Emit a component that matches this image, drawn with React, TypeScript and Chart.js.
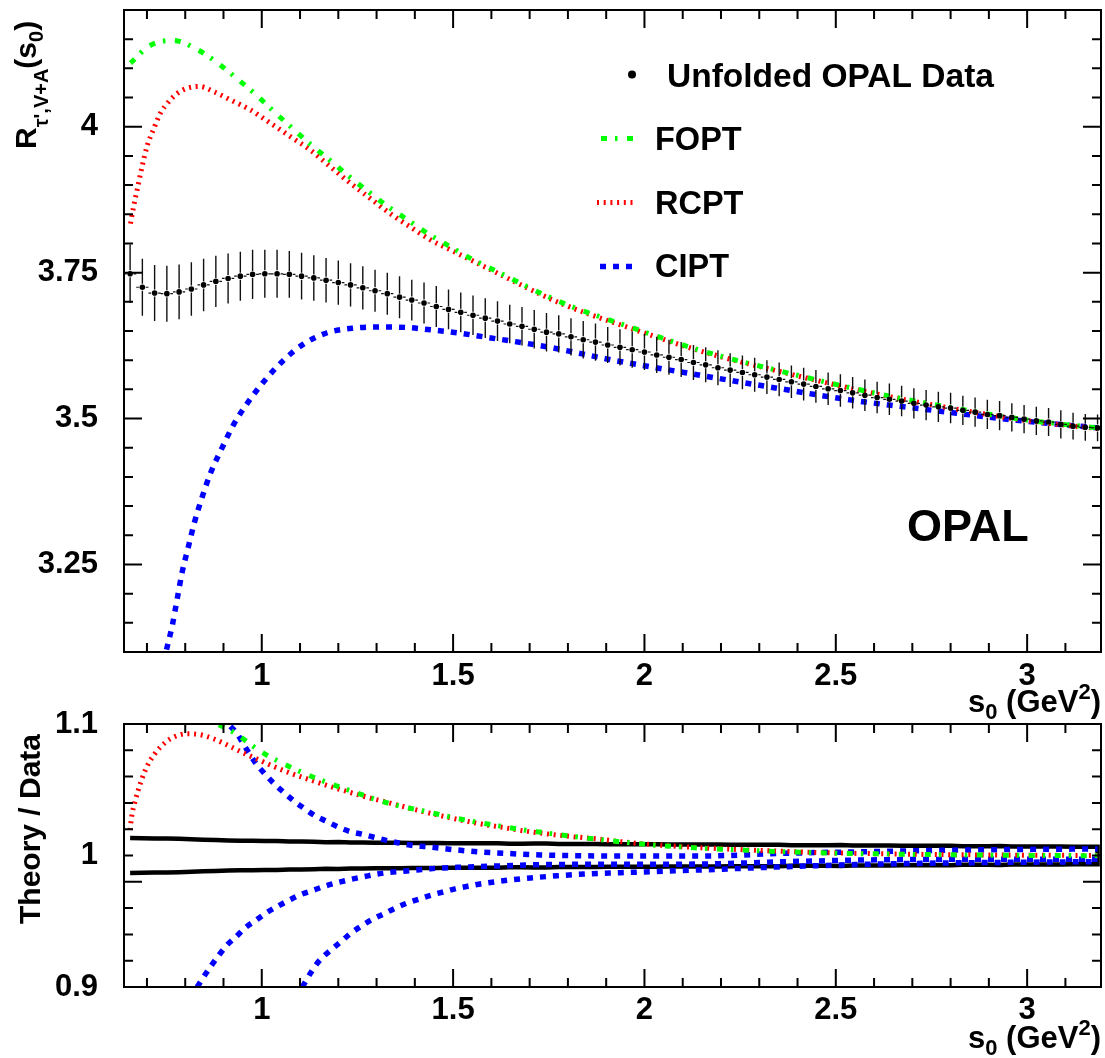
import React, { useEffect, useRef } from "react";
import { Chart, registerables } from "chart.js";

Chart.register(...registerables);

const FONT = '"Liberation Sans", Arial, Helvetica, sans-serif';

// ---------------- data ----------------
const dataS = [
  0.656, 0.688, 0.72, 0.752, 0.784, 0.816, 0.848, 0.88, 0.912, 0.944,
  0.976, 1.008, 1.04, 1.072, 1.104, 1.136, 1.168, 1.2, 1.232, 1.264,
  1.296, 1.328, 1.36, 1.392, 1.424, 1.456, 1.488, 1.52, 1.552, 1.584,
  1.616, 1.648, 1.68, 1.712, 1.744, 1.776, 1.808, 1.84, 1.872, 1.904,
  1.936, 1.968, 2.0, 2.032, 2.064, 2.096, 2.128, 2.16, 2.192, 2.224,
  2.256, 2.288, 2.32, 2.352, 2.384, 2.416, 2.448, 2.48, 2.512, 2.544,
  2.576, 2.608, 2.64, 2.672, 2.704, 2.736, 2.768, 2.8, 2.832, 2.864,
  2.896, 2.928, 2.96, 2.992, 3.024, 3.056, 3.088, 3.12, 3.152, 3.184,
];
const dataValue = [
  3.748, 3.725, 3.715, 3.714, 3.717, 3.722, 3.729, 3.735, 3.74, 3.744,
  3.747, 3.748, 3.748, 3.747, 3.744, 3.741, 3.737, 3.733, 3.729, 3.724,
  3.719, 3.714, 3.708, 3.703, 3.698, 3.692, 3.687, 3.682, 3.677, 3.672,
  3.667, 3.662, 3.658, 3.653, 3.648, 3.645, 3.64, 3.635, 3.631, 3.626,
  3.622, 3.618, 3.614, 3.609, 3.605, 3.601, 3.596, 3.592, 3.587, 3.583,
  3.579, 3.575, 3.571, 3.567, 3.563, 3.559, 3.555, 3.551, 3.548, 3.544,
  3.54, 3.536, 3.533, 3.53, 3.526, 3.523, 3.52, 3.518, 3.514, 3.511,
  3.507, 3.505, 3.502, 3.499, 3.496, 3.494, 3.49, 3.487, 3.485, 3.484,
];
const dataError = [
  0.05, 0.049, 0.048, 0.048, 0.047, 0.046, 0.045, 0.044, 0.043, 0.042,
  0.042, 0.041, 0.041, 0.04, 0.04, 0.039, 0.038, 0.038, 0.037, 0.037,
  0.036, 0.036, 0.036, 0.035, 0.035, 0.035, 0.034, 0.034, 0.034, 0.034,
  0.034, 0.033, 0.033, 0.033, 0.033, 0.032, 0.032, 0.032, 0.032, 0.031,
  0.031, 0.031, 0.031, 0.031, 0.03, 0.03, 0.03, 0.03, 0.03, 0.029,
  0.029, 0.029, 0.029, 0.029, 0.028, 0.028, 0.028, 0.028, 0.028, 0.027,
  0.027, 0.027, 0.027, 0.026, 0.026, 0.026, 0.026, 0.026, 0.025, 0.025,
  0.025, 0.025, 0.024, 0.024, 0.024, 0.024, 0.024, 0.023, 0.023, 0.023,
];
const BIN_HALF = 0.016;

const foptS = [0.657, 0.705, 0.768, 0.827, 0.883, 0.934, 0.983, 1.03, 1.079, 1.127, 1.177, 1.226, 1.276, 1.328, 1.38, 1.434, 1.491, 1.547, 1.605, 1.779, 1.962, 2.145, 2.363, 2.607, 2.842, 3.016, 3.184];
const foptV = [4.109, 4.138, 4.148, 4.134, 4.11, 4.083, 4.056, 4.027, 3.998, 3.97, 3.943, 3.916, 3.89, 3.864, 3.841, 3.817, 3.795, 3.774, 3.755, 3.7, 3.657, 3.617, 3.58, 3.543, 3.514, 3.496, 3.484];

const rcptS = [0.657, 0.665, 0.676, 0.687, 0.7, 0.718, 0.735, 0.757, 0.779, 0.805, 0.838, 0.875, 0.918, 0.97, 1.023, 1.075, 1.127, 1.18, 1.232, 1.284, 1.336, 1.389, 1.441, 1.493, 1.57, 1.779, 1.962, 2.145, 2.363, 2.607, 2.842, 3.016, 3.184];
const rcptV = [3.834, 3.863, 3.897, 3.931, 3.966, 3.997, 4.023, 4.043, 4.057, 4.066, 4.069, 4.06, 4.046, 4.029, 4.006, 3.983, 3.96, 3.931, 3.903, 3.877, 3.851, 3.828, 3.806, 3.789, 3.764, 3.698, 3.655, 3.616, 3.579, 3.542, 3.513, 3.495, 3.483];

const ciptS = [0.751, 0.766, 0.779, 0.792, 0.807, 0.824, 0.844, 0.867, 0.895, 0.925, 0.962, 1.005, 1.057, 1.11, 1.171, 1.24, 1.31, 1.38, 1.441, 1.51, 1.58, 1.744, 1.918, 2.093, 2.319, 2.537, 2.755, 2.973, 3.184];
const ciptV = [3.104, 3.145, 3.191, 3.237, 3.277, 3.322, 3.365, 3.408, 3.448, 3.488, 3.526, 3.563, 3.6, 3.628, 3.647, 3.655, 3.657, 3.656, 3.652, 3.647, 3.64, 3.623, 3.6, 3.58, 3.555, 3.532, 3.514, 3.497, 3.484];

const foptRatioS = [0.888, 0.927, 0.997, 1.053, 1.11, 1.171, 1.232, 1.293, 1.354, 1.419, 1.48, 1.545, 1.606, 1.672, 1.737, 1.802, 1.868, 1.933, 2.058, 2.249, 2.449, 2.641, 2.842, 3.184];
const foptRatioV = [1.0995, 1.0936, 1.0791, 1.0703, 1.0626, 1.0555, 1.0492, 1.0431, 1.038, 1.0341, 1.0301, 1.0263, 1.0232, 1.02, 1.0174, 1.0149, 1.0126, 1.0105, 1.0072, 1.0042, 1.0021, 1.0011, 1.0004, 0.9998];

const rcptRatioS = [0.656, 0.66, 0.67, 0.683, 0.7, 0.722, 0.748, 0.774, 0.805, 0.84, 0.875, 0.909, 0.944, 0.988, 1.031, 1.075, 1.127, 1.18, 1.232, 1.284, 1.336, 1.397, 1.458, 1.51, 1.572, 1.633, 1.685, 1.755, 1.815, 1.876, 1.938, 2.058, 2.249, 2.449, 2.641, 2.842, 3.184];
const rcptRatioV = [1.0194, 1.0296, 1.0423, 1.055, 1.0677, 1.0779, 1.086, 1.0906, 1.0926, 1.0918, 1.0886, 1.0842, 1.0791, 1.0733, 1.0677, 1.0626, 1.0575, 1.0524, 1.0479, 1.0436, 1.0398, 1.0352, 1.0309, 1.0276, 1.024, 1.0212, 1.0187, 1.0161, 1.0143, 1.0126, 1.0105, 1.0075, 1.0045, 1.0023, 1.0012, 1.0005, 1.0];

const ciptRatioUpperS = [0.918, 0.935, 0.953, 0.984, 1.01, 1.031, 1.058, 1.084, 1.11, 1.14, 1.171, 1.201, 1.232, 1.262, 1.293, 1.328, 1.363, 1.397, 1.432, 1.467, 1.51, 1.563, 1.633, 1.728, 1.842, 1.938, 2.145, 2.371, 2.58, 2.842, 3.184];
const ciptRatioUpperV = [1.0982, 1.093, 1.0842, 1.0703, 1.0614, 1.055, 1.0479, 1.0415, 1.036, 1.0301, 1.0258, 1.0215, 1.0181, 1.0162, 1.0139, 1.0113, 1.0093, 1.0075, 1.0067, 1.0055, 1.0042, 1.0029, 1.0017, 1.0004, 0.9998, 0.9996, 0.9996, 1.0017, 1.0029, 1.0042, 1.005];

const ciptRatioS = [0.831, 0.848, 0.867, 0.888, 0.909, 0.934, 0.958, 0.985, 1.012, 1.042, 1.072, 1.103, 1.136, 1.166, 1.201, 1.234, 1.267, 1.301, 1.336, 1.371, 1.406, 1.441, 1.476, 1.51, 1.563, 1.633, 1.728, 1.842, 1.938, 2.145, 2.371, 2.58, 2.842, 3.184];
const ciptRatioV = [0.9, 0.9076, 0.9158, 0.9242, 0.9318, 0.9386, 0.9453, 0.9508, 0.9564, 0.9615, 0.9661, 0.9704, 0.9737, 0.9768, 0.9796, 0.9819, 0.9839, 0.9859, 0.9872, 0.988, 0.989, 0.99, 0.9905, 0.991, 0.9915, 0.9922, 0.993, 0.9933, 0.9933, 0.9935, 0.9953, 0.9966, 0.9971, 0.9972];

const ciptRatioLowerS = [1.106, 1.132, 1.153, 1.18, 1.206, 1.232, 1.26, 1.288, 1.317, 1.347, 1.378, 1.41, 1.443, 1.476, 1.51, 1.545, 1.58, 1.641, 1.702, 1.772, 1.842, 1.938, 2.145, 2.371, 2.58, 2.842, 3.184];
const ciptRatioLowerV = [0.9, 0.9127, 0.9209, 0.928, 0.9343, 0.9407, 0.9463, 0.9513, 0.9554, 0.9597, 0.9636, 0.9668, 0.9699, 0.9724, 0.975, 0.977, 0.9788, 0.9811, 0.9829, 0.9846, 0.9859, 0.9869, 0.989, 0.9915, 0.9933, 0.9945, 0.9953];

const xTickValues = [1, 1.5, 2, 2.5, 3];
const yTickValuesTop = [3.25, 3.5, 3.75, 4];
const yTickValuesBottom = [0.9, 1, 1.1];
const legendLabels = ["Unfolded OPAL Data", "FOPT", "RCPT", "CIPT"];
const experimentLabel = "OPAL";

// ---------------- styles ----------------
const GREEN = "#00ff00";
const RED = "#ff0000";
const BLUE = "#0000ff";
const DASH_FOPT = [6, 8, 2.5, 9.5];
const DASH_RCPT = [2, 4.7];
const DASH_CIPT = [6, 7];
const W_FOPT = 5;
const W_RCPT = 5;
const W_CIPT = 5.5;

const X_MIN = 0.64;
const X_MAX = 3.193;

const pts = (s: number[], v: number[]) => s.map((x, i) => ({ x, y: v[i] }));

type Seg = { t: string; size: number; dy?: number };
function richWidth(ctx: CanvasRenderingContext2D, segs: Seg[]) {
  let w = 0;
  for (const s of segs) {
    ctx.font = `bold ${s.size}px ${FONT}`;
    w += ctx.measureText(s.t).width;
  }
  return w;
}
function drawRich(ctx: CanvasRenderingContext2D, segs: Seg[], x: number, y: number, align: "left" | "right" | "center" = "left") {
  const w = richWidth(ctx, segs);
  let cx = align === "right" ? x - w : align === "center" ? x - w / 2 : x;
  ctx.textAlign = "left";
  ctx.textBaseline = "alphabetic";
  for (const s of segs) {
    ctx.font = `bold ${s.size}px ${FONT}`;
    ctx.fillText(s.t, cx, y + (s.dy || 0));
    cx += ctx.measureText(s.t).width;
  }
}

const xTitleSegs: Seg[] = [
  { t: "s", size: 31 },
  { t: "0", size: 22, dy: 7 },
  { t: " (GeV", size: 31 },
  { t: "2", size: 22, dy: -13 },
  { t: ")", size: 31 },
];

function frameTicksPlugin(yMinor: number[], yMajor: number[]) {
  return {
    id: "frameTicks",
    afterDraw(chart: any) {
      const { ctx, chartArea: a, scales } = chart;
      const xs = scales.x;
      const ys = scales.y;
      ctx.save();
      ctx.strokeStyle = "#000";
      ctx.lineWidth = 2;
      ctx.setLineDash([]);
      ctx.beginPath();
      for (let k = 7; k <= 31; k++) {
        const v = k / 10;
        const px = xs.getPixelForValue(v);
        const L = k % 5 === 0 ? 18 : 9;
        ctx.moveTo(px, a.bottom);
        ctx.lineTo(px, a.bottom - L);
        ctx.moveTo(px, a.top);
        ctx.lineTo(px, a.top + L);
      }
      for (const v of yMinor) {
        const py = ys.getPixelForValue(v);
        const L = yMajor.some((m) => Math.abs(m - v) < 1e-6) ? 18 : 9;
        ctx.moveTo(a.left, py);
        ctx.lineTo(a.left + L, py);
        ctx.moveTo(a.right, py);
        ctx.lineTo(a.right - L, py);
      }
      ctx.stroke();
      ctx.strokeRect(a.left, a.top, a.right - a.left, a.bottom - a.top);
      ctx.restore();
    },
  };
}

const errorBarPlugin = {
  id: "errorBars",
  beforeDatasetDraw(chart: any, args: any) {
    if (args.index !== 0) return;
    const { ctx, chartArea: a, scales } = chart;
    const xs = scales.x;
    const ys = scales.y;
    ctx.save();
    ctx.beginPath();
    ctx.rect(a.left, a.top, a.right - a.left, a.bottom - a.top);
    ctx.clip();
    ctx.strokeStyle = "#111";
    ctx.lineWidth = 1.4;
    ctx.setLineDash([]);
    ctx.beginPath();
    const gap = 3.5;
    dataS.forEach((s, i) => {
      const px = xs.getPixelForValue(s);
      const py = ys.getPixelForValue(dataValue[i]);
      const top = ys.getPixelForValue(dataValue[i] + dataError[i]);
      const bot = ys.getPixelForValue(dataValue[i] - dataError[i]);
      ctx.moveTo(px, top);
      ctx.lineTo(px, py - gap);
      ctx.moveTo(px, py + gap);
      ctx.lineTo(px, bot);
    });
    ctx.stroke();
    ctx.lineWidth = 1.2;
    ctx.beginPath();
    dataS.forEach((s, i) => {
      const px = xs.getPixelForValue(s);
      const py = ys.getPixelForValue(dataValue[i]);
      const xl = xs.getPixelForValue(s - BIN_HALF);
      const xr = xs.getPixelForValue(s + BIN_HALF);
      ctx.moveTo(xl, py);
      ctx.lineTo(px - gap, py);
      ctx.moveTo(px + gap, py);
      ctx.lineTo(xr, py);
    });
    ctx.stroke();
    ctx.restore();
  },
};

const topAnnotationPlugin = {
  id: "topAnnotations",
  afterDraw(chart: any) {
    const ctx: CanvasRenderingContext2D = chart.ctx;
    ctx.save();
    ctx.fillStyle = "#000";
    // legend
    ctx.beginPath();
    ctx.arc(632, 74.5, 4, 0, Math.PI * 2);
    ctx.fill();
    const lines: [number, number, number, string, number[], number][] = [
      [601, 633, 138.5, GREEN, DASH_FOPT, W_FOPT],
      [597, 633, 202.5, RED, DASH_RCPT, W_RCPT],
      [600, 633, 266.5, BLUE, DASH_CIPT, W_CIPT],
    ];
    for (const [x0, x1, y, c, d, w] of lines) {
      ctx.strokeStyle = c;
      ctx.lineWidth = w;
      ctx.setLineDash(d);
      ctx.beginPath();
      ctx.moveTo(x0, y);
      ctx.lineTo(x1, y);
      ctx.stroke();
    }
    ctx.setLineDash([]);
    ctx.textAlign = "left";
    ctx.textBaseline = "alphabetic";
    ctx.font = `bold 33.5px ${FONT}`;
    ctx.fillText(legendLabels[0], 667, 86.5);
    ctx.font = `bold 32.5px ${FONT}`;
    ctx.fillText(legendLabels[1], 655, 150);
    ctx.fillText(legendLabels[2], 655, 214);
    ctx.fillText(legendLabels[3], 655, 277);
    // OPAL
    ctx.font = `bold 45px ${FONT}`;
    ctx.fillText(experimentLabel, 907, 541);
    // x title
    drawRich(ctx, xTitleSegs, 1101, 712, "right");
    // y title
    ctx.save();
    ctx.translate(36, 149);
    ctx.rotate(-Math.PI / 2);
    drawRich(ctx, [
      { t: "R", size: 30 },
      { t: "\u03c4',V+A", size: 20, dy: 12 },
      { t: "(s", size: 30 },
      { t: "0", size: 20, dy: 7 },
      { t: ")", size: 30 },
    ], 0, 0, "left");
    ctx.restore();
    ctx.restore();
  },
};

const bottomAnnotationPlugin = {
  id: "bottomAnnotations",
  afterDraw(chart: any) {
    const ctx: CanvasRenderingContext2D = chart.ctx;
    ctx.save();
    ctx.fillStyle = "#000";
    drawRich(ctx, xTitleSegs, 1101, 348, "right");
    ctx.translate(40, 129);
    ctx.rotate(-Math.PI / 2);
    ctx.font = `bold 30px ${FONT}`;
    ctx.textAlign = "center";
    ctx.textBaseline = "alphabetic";
    ctx.fillText("Theory / Data", 0, 0);
    ctx.restore();
  },
};

const tickFont = { family: FONT, size: 31, weight: "bold" as const };

function xScale(height: number, pad: number) {
  return {
    type: "linear",
    min: X_MIN,
    max: X_MAX,
    grid: { display: false, drawTicks: false },
    border: { display: false },
    ticks: {
      font: tickFont,
      color: "#000",
      padding: pad,
      maxRotation: 0,
      autoSkip: false,
      includeBounds: false,
      callback: (v: number) => String(v),
    },
    afterBuildTicks: (s: any) => {
      s.ticks = xTickValues.map((v) => ({ value: v }));
    },
    afterFit: (s: any) => {
      s.height = height;
      s.paddingLeft = 0;
      s.paddingRight = 0;
    },
  };
}

function yScale(min: number, max: number, values: number[]) {
  return {
    type: "linear",
    min,
    max,
    grid: { display: false, drawTicks: false },
    border: { display: false },
    ticks: {
      font: tickFont,
      color: "#000",
      padding: 26,
      autoSkip: false,
      includeBounds: false,
      callback: (v: number) => String(v),
    },
    afterBuildTicks: (s: any) => {
      s.ticks = values.map((v) => ({ value: v }));
    },
    afterFit: (s: any) => {
      s.width = 124;
      s.paddingTop = 0;
      s.paddingBottom = 0;
    },
  };
}

function lineDs(label: string, s: number[], v: number[], color: string, dash: number[], width: number) {
  return {
    label,
    data: pts(s, v),
    showLine: true,
    borderColor: color,
    backgroundColor: color,
    borderWidth: width,
    borderDash: dash,
    pointRadius: 0,
    fill: false,
    cubicInterpolationMode: "monotone",
    clip: 0,
  };
}

export default function App() {
  const topRef = useRef<HTMLCanvasElement>(null);
  const botRef = useRef<HTMLCanvasElement>(null);

  useEffect(() => {
    const topYMinor: number[] = [];
    for (let k = 63; k <= 83; k++) topYMinor.push(k * 0.05);
    const botYMinor: number[] = [];
    for (let k = 46; k <= 54; k++) botYMinor.push(k * 0.02);

    const top = new Chart(topRef.current as HTMLCanvasElement, {
      type: "scatter",
      data: {
        datasets: [
          {
            label: legendLabels[0],
            data: pts(dataS, dataValue),
            showLine: false,
            pointRadius: 2.8,
            pointBackgroundColor: "#000",
            pointBorderWidth: 0,
            borderColor: "#000",
            clip: 0,
          } as any,
          lineDs(legendLabels[1], foptS, foptV, GREEN, DASH_FOPT, W_FOPT) as any,
          lineDs(legendLabels[2], rcptS, rcptV, RED, DASH_RCPT, W_RCPT) as any,
          lineDs(legendLabels[3], ciptS, ciptV, BLUE, DASH_CIPT, W_CIPT) as any,
        ],
      },
      options: {
        responsive: false,
        maintainAspectRatio: false,
        animation: false,
        events: [],
        layout: { padding: { left: 0, right: 4, top: 10, bottom: 0 } },
        plugins: { legend: { display: false }, tooltip: { enabled: false } },
        scales: {
          x: xScale(68, 6) as any,
          y: yScale(3.1, 4.2, yTickValuesTop) as any,
        },
      },
      plugins: [errorBarPlugin, frameTicksPlugin(topYMinor, yTickValuesTop), topAnnotationPlugin],
    });

    const bandPts = [
      ...dataS.map((s, i) => ({ x: s, y: 1 + dataError[i] / dataValue[i] })),
      ...dataS.map((s, i) => ({ x: s, y: 1 - dataError[i] / dataValue[i] })).reverse(),
    ];

    const bot = new Chart(botRef.current as HTMLCanvasElement, {
      type: "scatter",
      data: {
        datasets: [
          lineDs("FOPT / Data", foptRatioS, foptRatioV, GREEN, DASH_FOPT, W_FOPT) as any,
          lineDs("RCPT / Data", rcptRatioS, rcptRatioV, RED, DASH_RCPT, W_RCPT) as any,
          lineDs("CIPT / Data (upper)", ciptRatioUpperS, ciptRatioUpperV, BLUE, DASH_CIPT, W_CIPT) as any,
          lineDs("CIPT / Data", ciptRatioS, ciptRatioV, BLUE, DASH_CIPT, W_CIPT) as any,
          lineDs("CIPT / Data (lower)", ciptRatioLowerS, ciptRatioLowerV, BLUE, DASH_CIPT, W_CIPT) as any,
          {
            label: "Data uncertainty",
            data: bandPts,
            showLine: true,
            borderColor: "#000",
            borderWidth: 4.5,
            pointRadius: 0,
            tension: 0,
            fill: false,
            clip: 0,
          } as any,
        ],
      },
      options: {
        responsive: false,
        maintainAspectRatio: false,
        animation: false,
        events: [],
        layout: { padding: { left: 0, right: 4, top: 24, bottom: 0 } },
        plugins: { legend: { display: false }, tooltip: { enabled: false } },
        scales: {
          x: xScale(71, 5) as any,
          y: yScale(0.9, 1.1, yTickValuesBottom) as any,
        },
      },
      plugins: [frameTicksPlugin(botYMinor, [0.98]), bottomAnnotationPlugin],
    });

    return () => {
      top.destroy();
      bot.destroy();
    };
  }, []);

  return (
    <div style={{ position: "absolute", left: 0, top: 0, width: 1105, height: 1058, background: "#fff", overflow: "hidden" }}>
      <canvas ref={topRef} width={1105} height={720} style={{ position: "absolute", left: 0, top: 0 }} />
      <canvas ref={botRef} width={1105} height={358} style={{ position: "absolute", left: 0, top: 700 }} />
    </div>
  );
}
